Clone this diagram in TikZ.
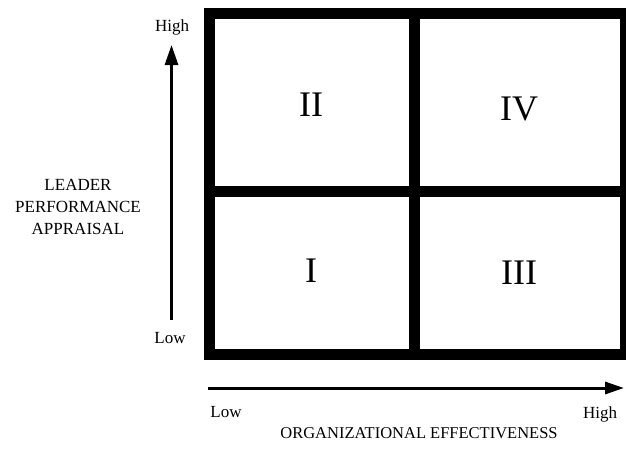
\documentclass[tikz,border=0pt]{standalone}
\usepackage{fontspec}
\setmainfont{Liberation Serif}
\usetikzlibrary{arrows.meta,positioning}

\tikzset{grille/.style = {line width=11pt},
         axe/.style = {line width=3pt, -{Triangle[length=20pt,width=13pt]}},
         chiffre/.style = {font=\fontsize{36}{36}\selectfont},
         etiq/.style = {font=\fontsize{17}{22}\selectfont, align=center, inner sep=0pt}
        }

\begin{document}
\begin{tikzpicture}[x=1pt,y=1pt]
  \useasboundingbox (0,0) rectangle (626,451);
  % la grille
  \coordinate (so) at (209.5,96.5);
  \coordinate (ne) at (625,437.5);
  \coordinate (hm) at (414.5,437.5);
  \coordinate (bm) at (414.5,96.5);
  \coordinate (gm) at (209.5,260);
  \coordinate (dm) at (625,260);
  \draw[grille] (so) rectangle (ne);
  \draw[grille] (hm) -- (bm);
  \draw[grille] (gm) -- (dm);
  % les quadrants
  \node[chiffre] (q2) at (311,346) {II};
  \node[chiffre] (q4) at (519,342) {IV};
  \node[chiffre] (q1) at (311,180) {I};
  \node[chiffre] (q3) at (519,178) {III};
  % axe vertical
  \coordinate (vbas) at (171.5,131);
  \coordinate (vhaut) at (171.5,406);
  \draw[axe] (vbas) -- (vhaut);
  \node[etiq] (vhigh) at (172,424) {High};
  \node[etiq] (vlow) at (170,113) {Low};
  \node[etiq] (vtitre) at (78,244) {LEADER\\PERFORMANCE\\APPRAISAL};
  % axe horizontal
  \coordinate (hgauche) at (208,63);
  \coordinate (hdroite) at (624,63);
  \draw[axe, -{Triangle[length=19pt,width=12pt]}] (hgauche) -- (hdroite);
  \node[etiq] (hlow) at (226,39) {Low};
  \node[etiq] (hhigh) at (600,37) {High};
  \node[etiq, font=\fontsize{16.5}{20}\selectfont] (htitre) at (419,18) {ORGANIZATIONAL EFFECTIVENESS};
\end{tikzpicture}
\end{document}
